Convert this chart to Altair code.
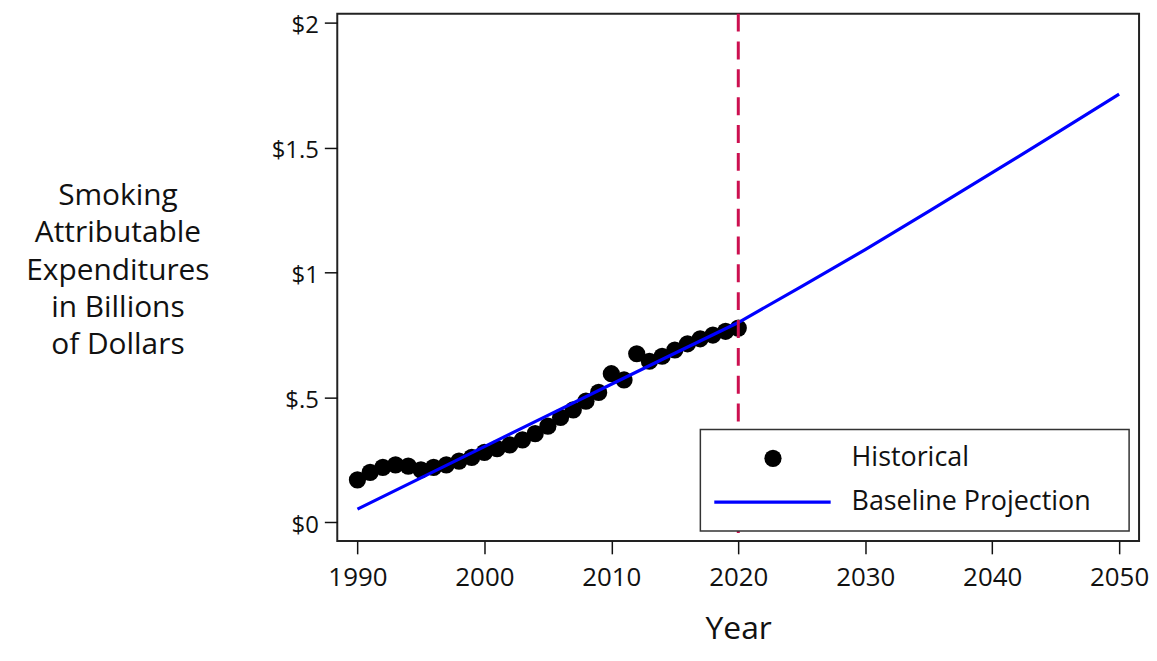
import altair as alt
import pandas as pd

# Historical data (billions of dollars)
hist_years = list(range(1990, 2021))
hist_values = [0.17, 0.20, 0.22, 0.23, 0.225, 0.21, 0.22, 0.23, 0.245, 0.26,
               0.28, 0.295, 0.31, 0.33, 0.355, 0.385, 0.42, 0.45, 0.485, 0.52,
               0.595, 0.57, 0.675, 0.645, 0.665, 0.69, 0.715, 0.735, 0.75, 0.765,
               0.778]

# Baseline projection
proj_years = [1990, 1995, 2000, 2005, 2010, 2015, 2020, 2025, 2030, 2035, 2040, 2045, 2050]
proj_values = [0.053, 0.178, 0.303, 0.428, 0.553, 0.677, 0.80, 0.945, 1.092, 1.245, 1.40, 1.557, 1.715]

x_ticks = [1990, 2000, 2010, 2020, 2030, 2040, 2050]
y_ticks = [0, 0.5, 1, 1.5, 2]
y_tick_labels = ["$0", "$.5", "$1", "$1.5", "$2"]
cutoff_year = [2020]
legend_labels = ["Historical", "Baseline Projection"]

y_title = ["Smoking", "Attributable", "Expenditures", "in Billions", "of Dollars"]

FONT = "Open Sans"
TOP = 12          # page y of plot top
LEFT = 339        # page x of plot left
W, H = 806, 542 - TOP

hist_df = pd.DataFrame({"year": hist_years, "value": hist_values})
proj_df = pd.DataFrame({"year": proj_years, "value": proj_values})
cut_df = pd.DataFrame({"year": cutoff_year})

label_expr = " : ".join(
    f"datum.value == {v} ? '{l}'" for v, l in zip(y_ticks[:-1], y_tick_labels[:-1])
) + f" : '{y_tick_labels[-1]}'"

xscale = alt.Scale(domain=[1988.41, 2051.57], nice=False, zero=False)
yscale = alt.Scale(domain=[-0.0745, (523.3 - TOP) / 251], nice=False, zero=False)

x_enc = alt.X("year:Q", scale=xscale,
              axis=alt.Axis(values=x_ticks, format="d", title="Year", grid=False,
                            domain=False, tickSize=13, tickWidth=1.5, tickColor="#111",
                            labelFontSize=26, labelFont=FONT, labelColor="#111",
                            labelPadding=11, titleFont=FONT, titleFontSize=32,
                            titleFontWeight="normal", titleColor="#111",
                            titleBaseline="middle", titleY=88))
y_enc = alt.Y("value:Q", scale=yscale,
              axis=alt.Axis(values=y_ticks, grid=False, domain=False,
                            labelExpr=label_expr, labelOffset=3,
                            tickSize=13, tickWidth=1.5, tickColor="#111",
                            labelFontSize=24, labelFont=FONT, labelColor="#111",
                            labelPadding=6, title=y_title, titleAngle=0,
                            titleAlign="center", titleBaseline="middle",
                            titleX=118 - LEFT, titleY=195 - TOP, titleFont=FONT,
                            titleFontSize=30, titleFontWeight="normal",
                            titleLineHeight=37.5, titleColor="#111"))

points = alt.Chart(hist_df).mark_circle(size=300, color="black", opacity=1).encode(
    x=x_enc, y=y_enc)

line = alt.Chart(proj_df).mark_line(color="#0000ff", strokeWidth=3.2).encode(
    x="year:Q", y="value:Q")

rule = alt.Chart(cut_df).mark_rule(color="#cc1050", strokeWidth=3,
                                   strokeDash=[18, 10]).encode(x="year:Q")

# Legend (decoration)
box_df = pd.DataFrame({"k": [0]})
legend_box = alt.Chart(box_df).mark_rect(fill="white", stroke="#333",
                                         strokeWidth=1.5).encode(
    x=alt.value(704 - LEFT), x2=alt.value(1135 - LEFT),
    y=alt.value(430 - TOP), y2=alt.value(532 - TOP))
legend_dot = alt.Chart(box_df).mark_circle(size=300, color="black", opacity=1).encode(
    x=alt.value(777 - LEFT), y=alt.value(459 - TOP))
legend_line = alt.Chart(box_df).mark_rule(color="#0000ff", strokeWidth=3.2).encode(
    x=alt.value(718 - LEFT), x2=alt.value(835 - LEFT), y=alt.value(503 - TOP))
leg_text_df = pd.DataFrame({"label": legend_labels, "ypos": [459 - TOP, 503 - TOP]})
legend_text = alt.Chart(leg_text_df).mark_text(
    align="left", baseline="middle", fontSize=27, font=FONT, color="#111").encode(
    x=alt.value(856 - LEFT), y=alt.Y("ypos:Q", scale=None), text="label:N")

chart = alt.layer(points, line, rule, legend_box, legend_dot, legend_line, legend_text).properties(
    width=W, height=H,
    autosize=alt.AutoSizeParams(type="none"),
    padding={"left": LEFT - 8, "top": TOP - 8, "right": 10, "bottom": 111},
    background="white",
).configure_view(stroke="#222", strokeWidth=2)

chart.save("out.html", embed_options={"renderer": "svg", "actions": False})
